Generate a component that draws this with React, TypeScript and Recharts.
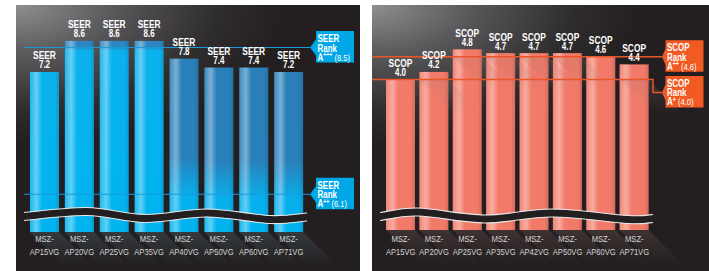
import { BarChart, Bar, XAxis, YAxis, ReferenceLine, LabelList } from 'recharts';

const seerModels = ['MSZ-AP15VG', 'MSZ-AP20VG', 'MSZ-AP25VG', 'MSZ-AP35VG', 'MSZ-AP40VG', 'MSZ-AP50VG', 'MSZ-AP60VG', 'MSZ-AP71VG'];
const seerValues = [7.2, 8.6, 8.6, 8.6, 7.8, 7.4, 7.4, 7.2];
const seerRanks = ['A+++', 'A++'];
const seerRankValues = [8.5, 6.1];
// the SEER axis has a wavy cut, so the rank lines sit where the original drew them
const seerRankAxisPos = [8.3, 1.7];

const scopModels = ['MSZ-AP15VG', 'MSZ-AP20VG', 'MSZ-AP25VG', 'MSZ-AP35VG', 'MSZ-AP42VG', 'MSZ-AP50VG', 'MSZ-AP60VG', 'MSZ-AP71VG'];
const scopValues = [4.0, 4.2, 4.8, 4.7, 4.7, 4.7, 4.6, 4.4];
const scopRanks = ['A++', 'A+'];
const scopRankValues = [4.6, 4.0];

// bar look on the SEER side (bright / bright with cap / dark top)
const seerBarStyle = ['bright', 'capped', 'capped', 'capped', 'dark', 'dark', 'dark', 'dark'];

// no narrow font installed, so squeeze Liberation Sans horizontally
const FONT = '"Liberation Sans", Arial, sans-serif';
const squeeze = (x: number) => `translate(${x} 0) scale(0.8 1) translate(${-x} 0)`;
const PANEL_BG = '#231f20';

const seerData = seerModels.map((model, i) => ({ model, seer: seerValues[i] }));

const scopData = scopModels.map((model, i) => {
  const v = scopValues[i];
  const reached = scopRankValues.filter((r) => r <= v);
  const floor = reached.length ? Math.max(...reached) : v;
  return { model, base: floor, over: Math.round((v - floor) * 100) / 100, total: v };
});

function Sheen({ id }: { id: string }) {
  return (
    <linearGradient id={id} x1="0" y1="0" x2="1" y2="0">
      <stop offset="0" stopColor="#fff" stopOpacity={0.08} />
      <stop offset="0.22" stopColor="#fff" stopOpacity={0.38} />
      <stop offset="0.42" stopColor="#fff" stopOpacity={0} />
      <stop offset="0.85" stopColor="#000" stopOpacity={0} />
      <stop offset="1" stopColor="#000" stopOpacity={0.12} />
    </linearGradient>
  );
}

function SeerBar(props: any) {
  const { x, y, width, height, index } = props;
  if (!height || height <= 0) return null;
  const b = y + height;
  return (
    <g>
      <polygon
        points={`${x},${b} ${x + width},${b} ${x + width + 34},${b + 34} ${x + 34},${b + 34}`}
        fill="url(#seerShadow)"
      />
      <rect x={x} y={y} width={width} height={height} fill={`url(#seer-${seerBarStyle[index]})`} />
      <rect x={x} y={y} width={width} height={height} fill="url(#sheenA)" />
    </g>
  );
}

function ScopBar(props: any) {
  const { x, y, width, height, base } = props;
  if (!height || height <= 0) return null;
  const b = y + height;
  return (
    <g>
      {base && (
        <polygon
          points={`${x},${b} ${x + width},${b} ${x + width + 34},${b + 34} ${x + 34},${b + 34}`}
          fill="url(#scopShadow)"
        />
      )}
      <rect x={x} y={y} width={width} height={height} fill={base ? '#f27a69' : 'url(#scopCap)'} />
      <rect x={x} y={y} width={width} height={height} fill="url(#sheenB)" />
    </g>
  );
}

function ValueLabel(props: any) {
  const { x, y, width, value, metric } = props;
  const cx = x + width / 2;
  return (
    <text textAnchor="middle" fill="#fff" fontFamily={FONT} fontWeight="bold" transform={squeeze(cx)}>
      <tspan x={cx} y={y - 12.5} fontSize={10.5}>{metric}</tspan>
      <tspan x={cx} y={y - 3.5} fontSize={10}>{Number(value).toFixed(1)}</tspan>
    </text>
  );
}

function ModelTick(props: any) {
  const { x, y, payload, first } = props;
  const [a, b] = String(payload.value).split('-');
  return (
    <text x={x} y={y} textAnchor="middle" fill="#d4d4d4" fontSize={9.5} fontFamily={FONT} transform={squeeze(x)}>
      <tspan x={x} dy={first}>{a}-</tspan>
      <tspan x={x} dy={13}>{b}</tspan>
    </text>
  );
}

function RankTag(props: any) {
  const { viewBox, color, stroke, strokeWidth, metric, grade, value, extLeft, tipGap, notch, drop = 0 } = props;
  if (!viewBox) return null;
  const { x, y, width } = viewBox;
  const right = x + width;
  const tipX = right + tipGap;
  const tipY = y + drop;
  const boxX = tipX + notch;
  const w = 38;
  const top = tipY - 16.5;
  const bottom = tipY + 15;
  const lead = drop
    ? `M${x - extLeft},${y} H${x} M${right},${y} H${right + 2} V${tipY} H${tipX}`
    : `M${x - extLeft},${y} H${x} M${right},${y} H${tipX}`;
  const sup = grade.slice(1);
  const tx = boxX + 1.5;
  return (
    <g>
      <path d={lead} stroke={stroke} strokeWidth={strokeWidth} fill="none" />
      <polygon
        points={`${tipX},${tipY} ${boxX},${tipY - 8} ${boxX},${top} ${boxX + w},${top} ${boxX + w},${bottom} ${boxX},${bottom} ${boxX},${tipY + 8}`}
        fill={color}
      />
      <text fill="#fff" fontFamily={FONT} fontWeight="bold" fontSize={10} transform={squeeze(tx)}>
        <tspan x={tx} y={tipY - 5.5}>{metric}</tspan>
        <tspan x={tx} y={tipY + 4}>Rank</tspan>
        <tspan x={tx} y={tipY + 13}>A</tspan>
        <tspan fontSize={6.5} dy={-3.5}>{sup}</tspan>
        <tspan fontSize={9.5} fontWeight="normal" dy={3.5}>{` (${value.toFixed(1)})`}</tspan>
      </text>
    </g>
  );
}

// catmull-rom through the points, for the axis cut
function smoothPath(pts: number[][], dy: number) {
  const p = pts.map(([a, b]) => [a, b + dy]);
  let d = `M${p[0][0]},${p[0][1]}`;
  for (let i = 0; i < p.length - 1; i++) {
    const p0 = p[i - 1] || p[i];
    const p1 = p[i];
    const p2 = p[i + 1];
    const p3 = p[i + 2] || p2;
    const c1 = [p1[0] + (p2[0] - p0[0]) / 6, p1[1] + (p2[1] - p0[1]) / 6];
    const c2 = [p2[0] - (p3[0] - p1[0]) / 6, p2[1] - (p3[1] - p1[1]) / 6];
    d += ` C${c1[0]},${c1[1]} ${c2[0]},${c2[1]} ${p2[0]},${p2[1]}`;
  }
  return d;
}

const seerCut = [[24, 216.5], [87, 211.5], [145, 218.5], [207, 213], [270, 219.5], [307, 217]];
const scopCut = [[380, 216.5], [418, 212], [485, 219], [552, 213], [628, 219.5], [653, 218.5]];

function AxisCut({ pts }: { pts: number[][] }) {
  return (
    <g fill="none">
      <path d={smoothPath(pts, 0)} stroke={PANEL_BG} strokeWidth={7.5} />
      <path d={smoothPath(pts, -4)} stroke="#e6e6e6" strokeWidth={1.1} />
      <path d={smoothPath(pts, 4)} stroke="#e6e6e6" strokeWidth={1.1} />
    </g>
  );
}

const panelBg = `radial-gradient(ellipse 270px 140px at 0% 0%, #8f8f92 0%, #5a595b 35%, #2f2c2d 75%, ${PANEL_BG} 100%)`;

export default function App() {
  return (
    <div style={{ position: 'fixed', left: 0, top: 0, width: 709, height: 271, background: '#fff', overflow: 'hidden' }}>
      <div style={{ position: 'absolute', left: 16, top: 5, width: 344, height: 266, background: panelBg }}>
        <BarChart width={344} height={266} data={seerData} margin={{ top: 27, right: 54, bottom: 0, left: 11 }} barSize={29}>
          <defs>
            <Sheen id="sheenA" />
            <linearGradient id="seer-bright" x1="0" y1="0" x2="0" y2="1">
              <stop offset="0" stopColor="#0bb1ec" />
              <stop offset="1" stopColor="#00b4f0" />
            </linearGradient>
            <linearGradient id="seer-capped" x1="0" y1="0" x2="0" y2="1">
              <stop offset="0" stopColor="#2c86c2" />
              <stop offset="0.034" stopColor="#2c86c2" />
              <stop offset="0.05" stopColor="#0bb1ec" />
              <stop offset="1" stopColor="#00b4f0" />
            </linearGradient>
            <linearGradient id="seer-dark" x1="0" y1="0" x2="0" y2="1">
              <stop offset="0" stopColor="#2b7fb8" />
              <stop offset="0.56" stopColor="#2a80ba" />
              <stop offset="0.8" stopColor="#07b0ec" />
              <stop offset="1" stopColor="#00b4f0" />
            </linearGradient>
            <linearGradient id="seerShadow" x1="0" y1="0" x2="0" y2="1">
              <stop offset="0" stopColor="#6f98a8" stopOpacity={0.22} />
              <stop offset="1" stopColor="#6f98a8" stopOpacity={0} />
            </linearGradient>
          </defs>
          <XAxis
            dataKey="model"
            height={39}
            axisLine={false}
            tickLine={false}
            tickSize={0}
            tickMargin={0}
            interval={0}
            tick={<ModelTick first={10} />}
          />
          <YAxis hide domain={[0, 9]} />
          <Bar dataKey="seer" shape={<SeerBar />} isAnimationActive={false}>
            <LabelList dataKey="seer" content={<ValueLabel metric="SEER" />} />
          </Bar>
          {seerRanks.map((grade, i) => (
            <ReferenceLine
              key={grade}
              y={seerRankAxisPos[i]}
              stroke="#1b9ad7"
              strokeWidth={1.1}
              label={
                <RankTag
                  color="#00a7e7"
                  stroke="#1b9ad7"
                  strokeWidth={1.1}
                  metric="SEER"
                  grade={grade}
                  value={seerRankValues[i]}
                  extLeft={3}
                  tipGap={4}
                  notch={6}
                />
              }
            />
          ))}
        </BarChart>
      </div>

      <div style={{ position: 'absolute', left: 372, top: 5, width: 337, height: 266, background: panelBg }}>
        <BarChart width={337} height={266} data={scopData} margin={{ top: 18, right: 58, bottom: 0, left: 12 }} barSize={29}>
          <defs>
            <Sheen id="sheenB" />
            <linearGradient id="scopCap" x1="0" y1="0" x2="0" y2="1">
              <stop offset="0" stopColor="#d91f3a" />
              <stop offset="1" stopColor="#e3364a" />
            </linearGradient>
            <linearGradient id="scopShadow" x1="0" y1="0" x2="0" y2="1">
              <stop offset="0" stopColor="#a07872" stopOpacity={0.22} />
              <stop offset="1" stopColor="#a07872" stopOpacity={0} />
            </linearGradient>
          </defs>
          <XAxis
            dataKey="model"
            height={41}
            axisLine={false}
            tickLine={false}
            tickSize={0}
            tickMargin={0}
            interval={0}
            tick={<ModelTick first={12} />}
          />
          <YAxis hide domain={[0, 5.5]} />
          <Bar dataKey="base" stackId="s" shape={<ScopBar base />} isAnimationActive={false} />
          <Bar dataKey="over" stackId="s" shape={<ScopBar />} isAnimationActive={false}>
            <LabelList dataKey="total" content={<ValueLabel metric="SCOP" />} />
          </Bar>
          {scopRanks.map((grade, i) => (
            <ReferenceLine
              key={grade}
              y={scopRankValues[i]}
              stroke="#e8562a"
              strokeWidth={1.5}
              label={
                <RankTag
                  color="#f15a22"
                  stroke="#e8562a"
                  strokeWidth={1.5}
                  metric="SCOP"
                  grade={grade}
                  value={scopRankValues[i]}
                  extLeft={12}
                  tipGap={11}
                  notch={3.5}
                  drop={i === 1 ? 13 : 0}
                />
              }
            />
          ))}
        </BarChart>
      </div>

      <svg width={709} height={271} style={{ position: 'absolute', left: 0, top: 0, pointerEvents: 'none' }}>
        <AxisCut pts={seerCut} />
        <AxisCut pts={scopCut} />
      </svg>
    </div>
  );
}
